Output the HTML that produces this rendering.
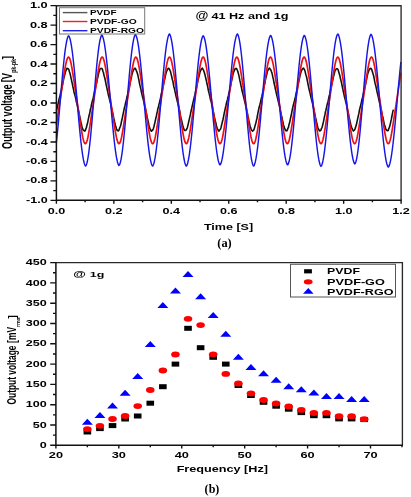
<!DOCTYPE html><html><head><meta charset="utf-8"><style>html,body{margin:0;padding:0;background:#fff;width:411px;height:497px;overflow:hidden}svg{display:block;will-change:transform}text{font-family:"Liberation Sans",sans-serif}</style></head><body><svg width="411" height="497" viewBox="0 0 411 497" >
<rect width="411" height="497" fill="#fff"/>
<polyline fill="none" stroke="#111" stroke-width="1.6" stroke-linejoin="round" points="56.40,110.94 56.90,108.93 57.40,106.55 57.90,104.61 58.40,102.53 58.90,99.97 59.40,97.87 59.90,96.54 60.40,93.92 60.90,91.72 61.40,90.17 61.90,87.39 62.40,85.36 62.90,82.65 63.40,80.42 63.90,77.67 64.40,75.92 64.90,74.11 65.40,72.03 65.90,70.76 66.40,69.59 66.90,68.32 67.40,68.64 67.90,68.62 68.40,68.92 68.90,69.63 69.40,71.72 69.90,73.02 70.40,75.16 70.90,77.43 71.40,79.56 71.90,82.10 72.40,84.01 72.90,86.75 73.40,88.76 73.90,91.47 74.40,93.61 74.90,95.04 75.40,97.16 75.90,99.28 76.40,102.01 76.90,103.61 77.40,105.91 77.90,107.81 78.40,110.26 78.90,112.47 79.40,114.82 79.90,117.41 80.40,119.77 80.90,122.34 81.40,124.28 81.90,126.44 82.40,128.04 82.90,129.52 83.40,130.21 83.90,130.34 84.40,131.12 84.90,130.94 85.40,130.19 85.90,128.79 86.40,127.48 86.90,125.27 87.40,123.83 87.90,121.41 88.40,118.85 88.90,116.28 89.40,114.60 89.90,112.36 90.40,109.24 90.90,107.64 91.40,105.12 91.90,102.77 92.40,100.83 92.90,99.21 93.40,97.24 93.90,94.40 94.40,92.77 94.90,90.04 95.40,88.36 95.90,85.67 96.40,83.78 96.90,81.49 97.40,78.72 97.90,76.93 98.40,74.23 98.90,72.17 99.40,71.07 99.90,69.33 100.40,68.62 100.90,68.38 101.40,68.55 101.90,68.56 102.40,69.29 102.90,71.25 103.40,72.31 103.90,74.74 104.40,76.75 104.90,78.52 105.40,80.92 105.90,83.36 106.40,85.85 106.90,88.16 107.40,90.41 107.90,92.69 108.40,95.12 108.90,96.83 109.40,98.82 109.90,101.13 110.40,102.77 110.90,104.93 111.40,107.71 111.90,109.54 112.40,111.87 112.90,113.75 113.40,116.50 113.90,119.02 114.40,120.83 114.90,123.55 115.40,125.57 115.90,126.82 116.40,128.79 116.90,129.76 117.40,130.66 117.90,130.66 118.40,130.84 118.90,130.30 119.40,128.69 119.90,127.39 120.40,126.28 120.90,124.61 121.40,121.84 121.90,119.75 122.40,117.52 122.90,114.88 123.40,112.55 123.90,110.17 124.40,107.96 124.90,105.97 125.40,103.58 125.90,101.56 126.40,99.87 126.90,97.14 127.40,95.55 127.90,93.57 128.40,91.00 128.90,88.65 129.40,86.85 129.90,83.97 130.40,81.53 130.90,79.40 131.40,77.36 131.90,74.69 132.40,72.95 132.90,71.30 133.40,70.40 133.90,69.07 134.40,68.87 134.90,68.11 135.40,68.54 135.90,69.53 136.40,70.84 136.90,71.90 137.40,73.46 137.90,75.37 138.40,77.92 138.90,79.93 139.40,82.85 139.90,85.27 140.40,87.04 140.90,89.44 141.40,92.15 141.90,94.17 142.40,96.43 142.90,98.09 143.40,99.94 143.90,102.15 144.40,104.69 144.90,106.37 145.40,108.66 145.90,111.01 146.40,113.36 146.90,115.73 147.40,118.57 147.90,120.22 148.40,122.32 148.90,125.24 149.40,127.03 149.90,128.69 150.40,129.41 150.90,130.72 151.40,131.13 151.90,130.50 152.40,130.54 152.90,129.78 153.40,128.40 153.90,126.70 154.40,124.65 154.90,122.62 155.40,120.28 155.90,117.80 156.40,115.89 156.90,113.24 157.40,111.36 157.90,108.39 158.40,106.94 158.90,104.60 159.40,102.72 159.90,100.63 160.40,98.59 160.90,96.23 161.40,93.61 161.90,92.10 162.40,89.34 162.90,87.15 163.40,85.11 163.90,82.60 164.40,80.13 164.90,78.29 165.40,75.81 165.90,73.56 166.40,71.73 166.90,70.82 167.40,69.37 167.90,68.94 168.40,68.27 168.90,68.28 169.40,69.16 169.90,70.39 170.40,71.15 170.90,73.38 171.40,75.43 171.90,77.46 172.40,79.75 172.90,81.37 173.40,84.32 173.90,86.90 174.40,88.50 174.90,90.96 175.40,93.15 175.90,95.51 176.40,97.50 176.90,99.60 177.40,101.92 177.90,103.31 178.40,105.48 178.90,107.74 179.40,110.01 179.90,112.28 180.40,115.47 180.90,117.75 181.40,119.42 181.90,122.07 182.40,124.03 182.90,125.95 183.40,127.65 183.90,129.25 184.40,130.17 184.90,130.53 185.40,130.51 185.90,130.35 186.40,129.45 186.90,128.73 187.40,127.41 187.90,125.35 188.40,123.07 188.90,120.97 189.40,118.83 189.90,116.67 190.40,114.44 190.90,111.72 191.40,109.79 191.90,107.39 192.40,105.05 192.90,102.89 193.40,100.93 193.90,99.07 194.40,96.75 194.90,94.90 195.40,92.54 195.90,90.13 196.40,88.10 196.90,85.90 197.40,82.96 197.90,80.89 198.40,78.56 198.90,76.73 199.40,74.72 199.90,72.37 200.40,71.28 200.90,69.97 201.40,68.66 201.90,68.42 202.40,68.12 202.90,69.18 203.40,69.89 203.90,71.33 204.40,72.81 204.90,74.55 205.40,76.69 205.90,78.77 206.40,80.70 206.90,83.52 207.40,85.37 207.90,87.84 208.40,90.70 208.90,92.25 209.40,94.45 209.90,96.54 210.40,99.31 210.90,100.73 211.40,102.66 211.90,105.50 212.40,107.03 212.90,109.92 213.40,112.08 213.90,114.59 214.40,117.08 214.90,119.11 215.40,121.62 215.90,123.11 216.40,125.77 216.90,127.29 217.40,128.92 217.90,129.47 218.40,130.74 218.90,131.19 219.40,130.25 219.90,129.90 220.40,129.13 220.90,128.02 221.40,125.82 221.90,123.82 222.40,121.75 222.90,119.80 223.40,117.57 223.90,114.85 224.40,112.46 224.90,110.16 225.40,107.85 225.90,105.72 226.40,103.30 226.90,101.59 227.40,99.96 227.90,97.41 228.40,95.63 228.90,92.97 229.40,91.25 229.90,89.04 230.40,86.64 230.90,84.12 231.40,81.71 231.90,79.49 232.40,77.45 232.90,74.65 233.40,72.68 233.90,71.61 234.40,70.43 234.90,69.11 235.40,68.49 235.90,68.61 236.40,68.43 236.90,69.22 237.40,70.28 237.90,72.09 238.40,73.62 238.90,75.55 239.40,78.16 239.90,80.71 240.40,82.49 240.90,85.25 241.40,87.34 241.90,90.04 242.40,92.04 242.90,93.92 243.40,95.99 243.90,97.88 244.40,100.34 244.90,102.31 245.40,104.22 245.90,106.54 246.40,108.73 246.90,111.42 247.40,113.20 247.90,116.35 248.40,118.27 248.90,120.71 249.40,122.82 249.90,125.22 250.40,127.04 250.90,128.36 251.40,129.50 251.90,130.54 252.40,131.08 252.90,130.65 253.40,130.50 253.90,129.85 254.40,128.16 254.90,126.37 255.40,124.52 255.90,122.87 256.40,120.59 256.90,118.51 257.40,116.03 257.90,113.10 258.40,110.71 258.90,108.49 259.40,106.21 259.90,104.53 260.40,102.58 260.90,100.55 261.40,97.92 261.90,96.40 262.40,93.79 262.90,91.72 263.40,89.75 263.90,86.86 264.40,84.50 264.90,82.78 265.40,79.92 265.90,77.68 266.40,75.70 266.90,73.79 267.40,71.44 267.90,70.29 268.40,69.30 268.90,68.66 269.40,68.14 269.90,68.64 270.40,69.57 270.90,70.05 271.40,71.55 271.90,72.84 272.40,74.93 272.90,77.42 273.40,79.20 273.90,82.26 274.40,84.67 274.90,86.31 275.40,89.39 275.90,91.14 276.40,93.69 276.90,95.80 277.40,97.47 277.90,99.86 278.40,101.90 278.90,104.11 279.40,105.76 279.90,108.40 280.40,110.85 280.90,112.92 281.40,115.17 281.90,117.18 282.40,119.88 282.90,122.02 283.40,124.47 283.90,126.35 284.40,127.90 284.90,128.88 285.40,130.25 285.90,130.79 286.40,130.50 286.90,130.83 287.40,129.89 287.90,128.29 288.40,127.54 288.90,125.06 289.40,123.21 289.90,121.37 290.40,118.94 290.90,116.53 291.40,114.22 291.90,111.70 292.40,109.26 292.90,106.90 293.40,104.64 293.90,103.11 294.40,101.08 294.90,98.84 295.40,96.96 295.90,94.52 296.40,92.28 296.90,90.16 297.40,88.31 297.90,85.22 298.40,83.25 298.90,80.64 299.40,78.78 299.90,76.18 300.40,74.10 300.90,72.33 301.40,70.91 301.90,69.91 302.40,68.71 302.90,68.75 303.40,68.12 303.90,68.72 304.40,69.43 304.90,70.69 305.40,72.87 305.90,74.69 306.40,76.28 306.90,78.53 307.40,81.07 307.90,83.75 308.40,86.20 308.90,88.48 309.40,90.62 309.90,92.43 310.40,94.81 310.90,96.71 311.40,99.07 311.90,101.16 312.40,102.90 312.90,105.06 313.40,107.71 313.90,109.28 314.40,112.29 314.90,114.73 315.40,117.17 315.90,119.03 316.40,121.49 316.90,123.69 317.40,125.73 317.90,127.78 318.40,128.95 318.90,129.68 319.40,130.86 319.90,130.78 320.40,130.72 320.90,130.23 321.40,128.58 321.90,127.90 322.40,126.12 322.90,124.02 323.40,121.91 323.90,119.57 324.40,116.97 324.90,114.88 325.40,112.07 325.90,110.16 326.40,108.03 326.90,105.66 327.40,103.65 327.90,101.92 328.40,99.81 328.90,97.07 329.40,95.58 329.90,93.30 330.40,90.58 330.90,88.59 331.40,86.15 331.90,83.63 332.40,81.66 332.90,79.66 333.40,76.85 333.90,75.22 334.40,73.15 334.90,71.00 335.40,70.33 335.90,69.15 336.40,68.91 336.90,68.61 337.40,68.95 337.90,69.33 338.40,70.87 338.90,72.47 339.40,74.18 339.90,75.82 340.40,78.31 340.90,80.38 341.40,82.42 341.90,84.74 342.40,87.13 342.90,89.55 343.40,91.75 343.90,94.21 344.40,96.50 344.90,98.42 345.40,100.37 345.90,102.64 346.40,104.42 346.90,106.72 347.40,109.21 347.90,111.18 348.40,113.33 348.90,116.36 349.40,118.58 349.90,120.59 350.40,122.82 350.90,125.02 351.40,126.91 351.90,128.11 352.40,129.11 352.90,130.10 353.40,131.02 353.90,130.41 354.40,130.23 354.90,129.11 355.40,127.87 355.90,126.25 356.40,124.59 356.90,122.29 357.40,119.92 357.90,117.65 358.40,115.32 358.90,113.23 359.40,110.50 359.90,108.19 360.40,106.36 360.90,104.18 361.40,102.35 361.90,99.71 362.40,97.97 362.90,95.90 363.40,93.45 363.90,92.12 364.40,89.20 364.90,86.77 365.40,84.75 365.90,82.09 366.40,80.13 366.90,77.58 367.40,75.20 367.90,73.15 368.40,72.03 368.90,70.19 369.40,69.58 369.90,68.62 370.40,68.79 370.90,68.40 371.40,68.96 371.90,69.99 372.40,71.85 372.90,73.38 373.40,75.07 373.90,76.99 374.40,79.81 374.90,82.43 375.40,84.48 375.90,86.32 376.40,88.66 376.90,90.98 377.40,93.23 377.90,95.24 378.40,97.33 378.90,99.92 379.40,102.20 379.90,103.65 380.40,106.48 380.90,108.24 381.40,110.80 381.90,113.24 382.40,115.63 382.90,117.20 383.40,119.80 383.90,122.34 384.40,124.76 384.90,125.89 385.40,127.72 385.90,129.53 386.40,129.80 386.90,130.58 387.40,130.64 387.90,130.62 388.40,130.10 388.90,128.28 389.40,127.30 389.90,125.51 390.40,123.58 390.90,121.12 391.40,119.14 391.90,116.26 392.40,113.92 392.90,111.40 393.40,109.59"/>
<polyline fill="none" stroke="#f01010" stroke-width="1.7" stroke-linejoin="round" points="56.40,124.77 56.90,121.48 57.40,118.16 57.90,114.82 58.40,111.49 58.90,108.18 59.40,104.89 59.90,101.61 60.40,98.34 60.90,95.06 61.40,91.76 61.90,88.45 62.40,85.11 62.90,81.78 63.40,78.46 63.90,75.19 64.40,72.03 64.90,69.02 65.40,66.21 65.90,63.69 66.40,61.50 66.90,59.70 67.40,58.35 67.90,57.47 68.40,57.11 68.90,57.27 69.40,57.94 69.90,59.10 70.40,60.73 70.90,62.77 71.40,65.17 71.90,67.87 72.40,70.80 72.90,73.91 73.40,77.14 73.90,80.44 74.40,83.78 74.90,87.12 75.40,90.44 75.90,93.74 76.40,97.03 76.90,100.30 77.40,103.58 77.90,106.86 78.40,110.16 78.90,113.48 79.40,116.82 79.90,120.16 80.40,123.46 80.90,126.70 81.40,129.82 81.90,132.76 82.40,135.48 82.90,137.90 83.40,139.96 83.90,141.61 84.40,142.81 84.90,143.51 85.40,143.69 85.90,143.36 86.40,142.52 86.90,141.19 87.40,139.42 87.90,137.25 88.40,134.75 88.90,131.96 89.40,128.96 89.90,125.80 90.40,122.54 90.90,119.22 91.40,115.89 91.90,112.55 92.40,109.23 92.90,105.94 93.40,102.66 93.90,99.39 94.40,96.11 94.90,92.82 95.40,89.51 95.90,86.18 96.40,82.84 96.90,79.52 97.40,76.23 97.90,73.03 98.40,69.96 98.90,67.08 99.40,64.46 99.90,62.16 100.40,60.23 100.90,58.73 101.40,57.70 101.90,57.17 102.40,57.16 102.90,57.67 103.40,58.68 103.90,60.16 104.40,62.07 104.90,64.36 105.40,66.97 105.90,69.84 106.40,72.90 106.90,76.10 107.40,79.38 107.90,82.71 108.40,86.05 108.90,89.38 109.40,92.69 109.90,95.98 110.40,99.25 110.90,102.53 111.40,105.81 111.90,109.10 112.40,112.42 112.90,115.75 113.40,119.09 113.90,122.41 114.40,125.67 114.90,128.83 115.40,131.84 115.90,134.64 116.40,137.16 116.90,139.34 117.40,141.13 117.90,142.48 118.40,143.34 118.90,143.69 119.40,143.53 119.90,142.84 120.40,141.67 120.90,140.04 121.40,137.99 121.90,135.58 122.40,132.88 122.90,129.94 123.40,126.82 123.90,123.59 124.40,120.29 124.90,116.95 125.40,113.62 125.90,110.29 126.40,106.99 126.90,103.71 127.40,100.43 127.90,97.16 128.40,93.88 128.90,90.57 129.40,87.25 129.90,83.91 130.40,80.58 130.90,77.27 131.40,74.04 131.90,70.92 132.40,67.98 132.90,65.27 133.40,62.86 133.90,60.80 134.40,59.16 134.90,57.97 135.40,57.28 135.90,57.11 136.40,57.45 136.90,58.30 137.40,59.64 137.90,61.42 138.40,63.59 138.90,66.11 139.40,68.90 139.90,71.90 140.40,75.06 140.90,78.33 141.40,81.64 141.90,84.98 142.40,88.31 142.90,91.63 143.40,94.93 143.90,98.21 144.40,101.48 144.90,104.76 145.40,108.05 145.90,111.36 146.40,114.68 146.90,118.02 147.40,121.35 147.90,124.64 148.40,127.84 148.90,130.90 149.40,133.77 149.90,136.39 150.40,138.68 150.90,140.61 151.40,142.10 151.90,143.12 152.40,143.63 152.90,143.63 153.40,143.12 153.90,142.10 154.40,140.61 154.90,138.68 155.40,136.39 155.90,133.77 156.40,130.90 156.90,127.84 157.40,124.64 157.90,121.35 158.40,118.02 158.90,114.68 159.40,111.36 159.90,108.05 160.40,104.76 160.90,101.48 161.40,98.21 161.90,94.93 162.40,91.63 162.90,88.31 163.40,84.98 163.90,81.64 164.40,78.33 164.90,75.06 165.40,71.90 165.90,68.90 166.40,66.11 166.90,63.59 167.40,61.42 167.90,59.64 168.40,58.30 168.90,57.45 169.40,57.11 169.90,57.28 170.40,57.97 170.90,59.16 171.40,60.80 171.90,62.86 172.40,65.27 172.90,67.98 173.40,70.92 173.90,74.04 174.40,77.27 174.90,80.58 175.40,83.91 175.90,87.25 176.40,90.57 176.90,93.88 177.40,97.16 177.90,100.43 178.40,103.71 178.90,106.99 179.40,110.29 179.90,113.62 180.40,116.95 180.90,120.29 181.40,123.59 181.90,126.82 182.40,129.94 182.90,132.88 183.40,135.58 183.90,137.99 184.40,140.04 184.90,141.67 185.40,142.84 185.90,143.53 186.40,143.69 186.90,143.34 187.40,142.48 187.90,141.13 188.40,139.34 188.90,137.16 189.40,134.64 189.90,131.84 190.40,128.83 190.90,125.67 191.40,122.41 191.90,119.09 192.40,115.75 192.90,112.42 193.40,109.10 193.90,105.81 194.40,102.53 194.90,99.25 195.40,95.98 195.90,92.69 196.40,89.38 196.90,86.05 197.40,82.71 197.90,79.38 198.40,76.10 198.90,72.90 199.40,69.84 199.90,66.97 200.40,64.36 200.90,62.07 201.40,60.16 201.90,58.68 202.40,57.67 202.90,57.16 203.40,57.17 203.90,57.70 204.40,58.73 204.90,60.23 205.40,62.16 205.90,64.46 206.40,67.08 206.90,69.96 207.40,73.03 207.90,76.23 208.40,79.52 208.90,82.84 209.40,86.18 209.90,89.51 210.40,92.82 210.90,96.11 211.40,99.39 211.90,102.66 212.40,105.94 212.90,109.23 213.40,112.55 213.90,115.89 214.40,119.22 214.90,122.54 215.40,125.80 215.90,128.96 216.40,131.96 216.90,134.75 217.40,137.25 217.90,139.42 218.40,141.19 218.90,142.52 219.40,143.36 219.90,143.69 220.40,143.51 220.90,142.81 221.40,141.61 221.90,139.96 222.40,137.90 222.90,135.48 223.40,132.76 223.90,129.82 224.40,126.70 224.90,123.46 225.40,120.16 225.90,116.82 226.40,113.48 226.90,110.16 227.40,106.86 227.90,103.58 228.40,100.30 228.90,97.03 229.40,93.74 229.90,90.44 230.40,87.12 230.90,83.78 231.40,80.44 231.90,77.14 232.40,73.91 232.90,70.80 233.40,67.87 233.90,65.17 234.40,62.77 234.90,60.73 235.40,59.10 235.90,57.94 236.40,57.27 236.90,57.11 237.40,57.47 237.90,58.35 238.40,59.70 238.90,61.50 239.40,63.69 239.90,66.21 240.40,69.02 240.90,72.03 241.40,75.19 241.90,78.46 242.40,81.78 242.90,85.11 243.40,88.45 243.90,91.76 244.40,95.06 244.90,98.34 245.40,101.61 245.90,104.89 246.40,108.18 246.90,111.49 247.40,114.82 247.90,118.16 248.40,121.48 248.90,124.77 249.40,127.96 249.90,131.02 250.40,133.88 250.90,136.48 251.40,138.77 251.90,140.67 252.40,142.15 252.90,143.15 253.40,143.64 253.90,143.62 254.40,143.09 254.90,142.05 255.40,140.54 255.90,138.60 256.40,136.29 256.90,133.66 257.40,130.78 257.90,127.71 258.40,124.51 258.90,121.22 259.40,117.89 259.90,114.55 260.40,111.22 260.90,107.91 261.40,104.62 261.90,101.35 262.40,98.08 262.90,94.80 263.40,91.50 263.90,88.18 264.40,84.85 264.90,81.51 265.40,78.19 265.90,74.94 266.40,71.78 266.90,68.78 267.40,66.00 267.90,63.50 268.40,61.34 268.90,59.57 269.40,58.26 269.90,57.43 270.40,57.10 270.90,57.30 271.40,58.01 271.90,59.22 272.40,60.88 272.90,62.95 273.40,65.37 273.90,68.09 274.40,71.05 274.90,74.17 275.40,77.41 275.90,80.71 276.40,84.05 276.90,87.38 277.40,90.70 277.90,94.01 278.40,97.29 278.90,100.56 279.40,103.84 279.90,107.12 280.40,110.43 280.90,113.75 281.40,117.09 281.90,120.42 282.40,123.72 282.90,126.95 283.40,130.06 283.90,132.99 284.40,135.68 284.90,138.08 285.40,140.11 285.90,141.73 286.40,142.88 286.90,143.54 287.40,143.69 287.90,143.31 288.40,142.43 288.90,141.07 289.40,139.26 289.90,137.06 290.40,134.53 290.90,131.73 291.40,128.71 291.90,125.54 292.40,122.28 292.90,118.96 293.40,115.62 293.90,112.29 294.40,108.97 294.90,105.68 295.40,102.40 295.90,99.12 296.40,95.85 296.90,92.56 297.40,89.25 297.90,85.92 298.40,82.58 298.90,79.25 299.40,75.97 299.90,72.78 300.40,69.72 300.90,66.86 301.40,64.27 301.90,61.99 302.40,60.09 302.90,58.63 303.40,57.64 303.90,57.15 304.40,57.18 304.90,57.73 305.40,58.78 305.90,60.30 306.40,62.24 306.90,64.56 307.40,67.19 307.90,70.08 308.40,73.15 308.90,76.36 309.40,79.65 309.90,82.98 310.40,86.32 310.90,89.64 311.40,92.95 311.90,96.24 312.40,99.52 312.90,102.79 313.40,106.07 313.90,109.37 314.40,112.69 314.90,116.02 315.40,119.36 315.90,122.67 316.40,125.93 316.90,129.08 317.40,132.07 317.90,134.85 318.40,137.35 318.90,139.50 319.40,141.26 319.90,142.56 320.40,143.39 320.90,143.70 321.40,143.49 321.90,142.77 322.40,141.56 322.90,139.89 323.40,137.81 323.90,135.37 324.40,132.65 324.90,129.69 325.40,126.57 325.90,123.33 326.40,120.02 326.90,116.69 327.40,113.35 327.90,110.03 328.40,106.73 328.90,103.44 329.40,100.17 329.90,96.90 330.40,93.61 330.90,90.31 331.40,86.98 331.90,83.64 332.40,80.31 332.90,77.01 333.40,73.79 333.90,70.68 334.40,67.75 334.90,65.07 335.40,62.68 335.90,60.65 336.40,59.05 336.90,57.90 337.40,57.25 337.90,57.11 338.40,57.50 338.90,58.39 339.40,59.76 339.90,61.58 340.40,63.78 340.90,66.32 341.40,69.13 341.90,72.15 342.40,75.32 342.90,78.59 343.40,81.91 343.90,85.25 344.40,88.58 344.90,91.90 345.40,95.19 345.90,98.47 346.40,101.74 346.90,105.02 347.40,108.31 347.90,111.62 348.40,114.95 348.90,118.29 349.40,121.62 349.90,124.89 350.40,128.09 350.90,131.14 351.40,133.99 351.90,136.58 352.40,138.85 352.90,140.74 353.40,142.20 353.90,143.18 354.40,143.65 354.90,143.61 355.40,143.05 355.90,142.00 356.40,140.47 356.90,138.51 357.40,136.19 357.90,133.55 358.40,130.66 358.90,127.58 359.40,124.37 359.90,121.09 360.40,117.76 360.90,114.42 361.40,111.09 361.90,107.78 362.40,104.49 362.90,101.22 363.40,97.95 363.90,94.66 364.40,91.37 364.90,88.05 365.40,84.71 365.90,81.38 366.40,78.06 366.90,74.81 367.40,71.66 367.90,68.67 368.40,65.90 368.90,63.41 369.40,61.26 369.90,59.51 370.40,58.21 370.90,57.40 371.40,57.10 371.90,57.32 372.40,58.05 372.90,59.27 373.40,60.95 373.90,63.04 374.40,65.48 374.90,68.21 375.40,71.17 375.90,74.30 376.40,77.54 376.90,80.84 377.40,84.18 377.90,87.52 378.40,90.84 378.90,94.14 379.40,97.42 379.90,100.69 380.40,103.97 380.90,107.25 381.40,110.56 381.90,113.88 382.40,117.22 382.90,120.55 383.40,123.85 383.90,127.08 384.40,130.18 384.90,133.10 385.40,135.79 385.90,138.17 386.40,140.18 386.90,141.78 387.40,142.92 387.90,143.56 388.40,143.68 388.90,143.29 389.40,142.39 389.90,141.00 390.40,139.18 390.90,136.97 391.40,134.42 391.90,131.61 392.40,128.59 392.90,125.41 393.40,122.14 393.90,118.82 394.40,115.49 394.90,112.15 395.40,108.84 395.90,105.54 396.40,102.27 396.90,98.99 397.40,95.72 397.90,92.42 398.40,89.11 398.90,85.78 399.40,82.44 399.90,79.12 400.40,75.84 400.90,72.65"/>
<polyline fill="none" stroke="#1515e8" stroke-width="1.45" stroke-linejoin="round" points="56.40,142.42 56.90,137.75 57.40,132.78 57.90,127.55 58.40,122.10 58.90,116.48 59.40,110.73 59.90,104.90 60.40,99.04 60.90,93.19 61.40,87.41 61.90,81.73 62.40,76.21 62.90,70.88 63.40,65.80 63.90,61.01 64.40,56.53 64.90,52.41 65.40,48.68 65.90,45.37 66.40,42.51 66.90,40.10 67.40,38.18 67.90,36.75 68.40,35.83 68.90,35.96 69.40,36.96 69.90,38.45 70.40,40.41 70.90,42.83 71.40,45.70 71.90,49.00 72.40,52.70 72.90,56.77 73.40,61.19 73.90,65.91 74.40,70.91 74.90,76.15 75.40,81.58 75.90,87.15 76.40,92.84 76.90,98.59 77.40,104.36 77.90,110.10 78.40,115.77 78.90,121.32 79.40,126.72 79.90,131.91 80.40,136.85 80.90,141.52 81.40,145.87 81.90,149.87 82.40,153.49 82.90,156.70 83.40,159.49 83.90,161.82 84.40,163.69 84.90,165.07 85.40,165.98 85.90,165.81 86.40,164.73 86.90,163.11 87.40,160.97 87.90,158.32 88.40,155.18 88.90,151.57 89.40,147.53 89.90,143.09 90.40,138.28 90.90,133.15 91.40,127.74 91.90,122.09 92.40,116.26 92.90,110.30 93.40,104.25 93.90,98.17 94.40,92.11 94.90,86.12 95.40,80.26 95.90,74.57 96.40,69.11 96.90,63.92 97.40,59.05 97.90,54.53 98.40,50.40 98.90,46.71 99.40,43.47 99.90,40.72 100.40,38.48 100.90,36.75 101.40,35.56 101.90,35.10 102.40,35.89 102.90,37.16 103.40,38.89 103.90,41.09 104.40,43.73 104.90,46.79 105.40,50.26 105.90,54.11 106.40,58.31 106.90,62.83 107.40,67.63 107.90,72.68 108.40,77.95 108.90,83.39 109.40,88.95 109.90,94.60 110.40,100.30 110.90,106.00 111.40,111.65 111.90,117.21 112.40,122.65 112.90,127.92 113.40,132.97 113.90,137.77 114.40,142.29 114.90,146.49 115.40,150.34 115.90,153.81 116.40,156.87 116.90,159.51 117.40,161.71 117.90,163.44 118.40,164.71 118.90,165.50 119.40,165.05 119.90,163.88 120.40,162.20 120.90,160.00 121.40,157.31 121.90,154.14 122.40,150.53 122.90,146.50 123.40,142.07 123.90,137.30 124.40,132.21 124.90,126.86 125.40,121.27 125.90,115.51 126.40,109.62 126.90,103.65 127.40,97.65 127.90,91.67 128.40,85.76 128.90,79.96 129.40,74.34 129.90,68.94 130.40,63.79 130.90,58.95 131.40,54.46 131.90,50.34 132.40,46.64 132.90,43.39 133.40,40.60 133.90,38.30 134.40,36.51 134.90,35.24 135.40,34.50 135.90,35.20 136.40,36.38 136.90,38.04 137.40,40.16 137.90,42.73 138.40,45.74 138.90,49.16 139.40,52.97 139.90,57.13 140.40,61.63 140.90,66.42 141.40,71.46 141.90,76.73 142.40,82.19 142.90,87.77 143.40,93.46 143.90,99.20 144.40,104.95 144.90,110.66 145.40,116.29 145.90,121.80 146.40,127.15 146.90,132.29 147.40,137.19 147.90,141.81 148.40,146.11 148.90,150.06 149.40,153.64 149.90,156.81 150.40,159.56 150.90,161.87 151.40,163.71 151.90,165.08 152.40,165.98 152.90,165.82 153.40,164.79 153.90,163.26 154.40,161.23 154.90,158.72 155.40,155.76 155.90,152.34 156.40,148.52 156.90,144.31 157.40,139.75 157.90,134.87 158.40,129.71 158.90,124.31 159.40,118.72 159.90,112.98 160.40,107.13 160.90,101.23 161.40,95.32 161.90,89.45 162.40,83.66 162.90,78.00 163.40,72.52 163.90,67.27 164.40,62.27 164.90,57.58 165.40,53.22 165.90,49.24 166.40,45.66 166.90,42.51 167.40,39.81 167.90,37.59 168.40,35.86 168.90,34.63 169.40,33.90 169.90,34.62 170.40,35.84 170.90,37.56 171.40,39.76 171.90,42.42 172.40,45.54 172.90,49.08 173.40,53.02 173.90,57.33 174.40,61.98 174.90,66.93 175.40,72.14 175.90,77.58 176.40,83.19 176.90,88.93 177.40,94.76 177.90,100.64 178.40,106.51 178.90,112.33 179.40,118.05 179.90,123.63 180.40,129.02 180.90,134.18 181.40,139.07 181.90,143.66 182.40,147.90 182.90,151.76 183.40,155.22 183.90,158.25 184.40,160.82 184.90,162.92 185.40,164.54 185.90,165.66 186.40,166.10 186.90,165.29 187.40,163.98 187.90,162.19 188.40,159.93 188.90,157.21 189.40,154.04 189.90,150.47 190.40,146.50 190.90,142.17 191.40,137.52 191.90,132.58 192.40,127.39 192.90,121.99 193.40,116.42 193.90,110.73 194.40,104.96 194.90,99.16 195.40,93.37 195.90,87.64 196.40,82.02 196.90,76.55 197.40,71.27 197.90,66.22 198.40,61.45 198.90,56.99 199.40,52.87 199.90,49.14 200.40,45.81 200.90,42.91 201.40,40.46 201.90,38.48 202.40,36.98 202.90,35.97 203.40,35.82 203.90,36.73 204.40,38.14 204.90,40.02 205.40,42.38 205.90,45.20 206.40,48.45 206.90,52.11 207.40,56.16 207.90,60.55 208.40,65.27 208.90,70.26 209.40,75.50 209.90,80.93 210.40,86.52 210.90,92.22 211.40,97.99 211.90,103.77 212.40,109.53 212.90,115.21 213.40,120.77 213.90,126.17 214.40,131.36 214.90,136.30 215.40,140.95 215.90,145.28 216.40,149.25 216.90,152.83 217.40,156.00 217.90,158.73 218.40,160.99 218.90,162.78 219.40,164.09 219.90,164.90 220.40,164.49 220.90,163.43 221.40,161.90 221.90,159.92 222.40,157.50 222.90,154.65 223.40,151.39 223.90,147.75 224.40,143.76 224.90,139.43 225.40,134.81 225.90,129.92 226.40,124.80 226.90,119.50 227.40,114.04 227.90,108.48 228.40,102.84 228.90,97.19 229.40,91.55 229.90,85.96 230.40,80.48 230.90,75.15 231.40,69.99 231.90,65.05 232.40,60.37 232.90,55.98 233.40,51.92 233.90,48.20 234.40,44.87 234.90,41.94 235.40,39.43 235.90,37.36 236.40,35.74 236.90,34.59 237.40,33.90 237.90,34.66 238.40,35.97 238.90,37.82 239.40,40.18 239.90,43.06 240.40,46.42 240.90,50.23 241.40,54.47 241.90,59.10 242.40,64.09 242.90,69.38 243.40,74.94 243.90,80.71 244.40,86.65 244.90,92.70 245.40,98.82 245.90,104.95 246.40,111.04 246.90,117.03 247.40,122.88 247.90,128.53 248.40,133.93 248.90,139.04 249.40,143.82 249.90,148.22 250.40,152.21 250.90,155.76 251.40,158.83 251.90,161.40 252.40,163.45 252.90,164.98 253.40,165.96 253.90,165.83 254.40,164.83 254.90,163.34 255.40,161.38 255.90,158.95 256.40,156.07 256.90,152.77 257.40,149.06 257.90,144.98 258.40,140.55 258.90,135.82 259.40,130.81 259.90,125.56 260.40,120.12 260.90,114.53 261.40,108.83 261.90,103.06 262.40,97.28 262.90,91.53 263.40,85.84 263.90,80.28 264.40,74.87 264.90,69.67 265.40,64.71 265.90,60.04 266.40,55.68 266.90,51.67 267.40,48.04 267.90,44.82 268.40,42.03 268.90,39.69 269.40,37.82 269.90,36.43 270.40,35.52 270.90,35.66 271.40,36.65 271.90,38.13 272.40,40.08 272.90,42.48 273.40,45.33 273.90,48.61 274.40,52.28 274.90,56.33 275.40,60.71 275.90,65.41 276.40,70.37 276.90,75.57 277.40,80.96 277.90,86.50 278.40,92.15 278.90,97.86 279.40,103.59 279.90,109.29 280.40,114.92 280.90,120.43 281.40,125.79 281.90,130.94 282.40,135.86 282.90,140.49 283.40,144.81 283.90,148.78 284.40,152.38 284.90,155.57 285.40,158.33 285.90,160.65 286.40,162.50 286.90,163.88 287.40,164.78 287.90,164.63 288.40,163.61 288.90,162.09 289.40,160.08 289.90,157.60 290.40,154.66 290.90,151.28 291.40,147.49 291.90,143.32 292.40,138.80 292.90,133.97 293.40,128.86 293.90,123.53 294.40,118.00 294.90,112.33 295.40,106.56 295.90,100.73 296.40,94.91 296.90,89.12 297.40,83.42 297.90,77.86 298.40,72.49 298.90,67.33 299.40,62.44 299.90,57.86 300.40,53.62 300.90,49.75 301.40,46.29 301.90,43.25 302.40,40.68 302.90,38.57 303.40,36.95 303.90,35.83 304.40,35.40 304.90,36.23 305.40,37.57 305.90,39.40 306.40,41.72 306.90,44.51 307.40,47.75 307.90,51.42 308.40,55.49 308.90,59.92 309.40,64.68 309.90,69.73 310.40,75.04 310.90,80.55 311.40,86.23 311.90,92.03 312.40,97.90 312.90,103.80 313.40,109.67 313.90,115.47 314.40,121.15 314.90,126.66 315.40,131.97 315.90,137.02 316.40,141.78 316.90,146.21 317.40,150.28 317.90,153.95 318.40,157.19 318.90,159.98 319.40,162.30 319.90,164.13 320.40,165.47 320.90,166.30 321.40,165.86 321.90,164.72 322.40,163.09 322.90,160.96 323.40,158.36 323.90,155.29 324.40,151.79 324.90,147.88 325.40,143.59 325.90,138.95 326.40,134.01 326.90,128.79 327.40,123.34 327.90,117.71 328.40,111.94 328.90,106.07 329.40,100.15 329.90,94.23 330.40,88.36 330.90,82.59 331.40,76.96 331.90,71.51 332.40,66.29 332.90,61.35 333.40,56.71 333.90,52.42 334.40,48.51 334.90,45.01 335.40,41.94 335.90,39.34 336.40,37.21 336.90,35.58 337.40,34.44 337.90,34.00 338.40,34.80 338.90,36.09 339.40,37.85 339.90,40.09 340.40,42.77 340.90,45.89 341.40,49.41 341.90,53.33 342.40,57.59 342.90,62.18 343.40,67.06 343.90,72.18 344.40,77.52 344.90,83.02 345.40,88.65 345.90,94.36 346.40,100.10 346.90,105.84 347.40,111.52 347.90,117.10 348.40,122.54 348.90,127.80 349.40,132.83 349.90,137.59 350.40,142.06 350.90,146.18 351.40,149.94 351.90,153.31 352.40,156.26 352.90,158.76 353.40,160.81 353.90,162.38 354.40,163.48 354.90,163.89 355.40,163.04 355.90,161.65 356.40,159.73 356.90,157.31 357.40,154.39 357.90,151.01 358.40,147.18 358.90,142.94 359.40,138.32 359.90,133.37 360.40,128.12 360.90,122.62 361.40,116.92 361.90,111.07 362.40,105.11 362.90,99.10 363.40,93.09 363.90,87.13 364.40,81.28 364.90,75.58 365.40,70.08 365.90,64.83 366.40,59.88 366.90,55.26 367.40,51.02 367.90,47.19 368.40,43.81 368.90,40.89 369.40,38.47 369.90,36.55 370.40,35.16 370.90,34.31 371.40,34.72 371.90,35.81 372.40,37.37 372.90,39.40 373.40,41.88 373.90,44.80 374.40,48.14 374.90,51.87 375.40,55.97 375.90,60.40 376.40,65.13 376.90,70.14 377.40,75.37 377.90,80.80 378.40,86.38 378.90,92.06 379.40,97.81 379.90,103.59 380.40,109.34 380.90,115.02 381.40,120.60 381.90,126.03 382.40,131.26 382.90,136.27 383.40,141.00 383.90,145.43 384.40,149.53 384.90,153.26 385.40,156.60 385.90,159.52 386.40,162.00 386.90,164.03 387.40,165.59 387.90,166.68 388.40,167.10 388.90,166.33 389.40,165.11 389.90,163.44 390.40,161.32 390.90,158.79 391.40,155.84 391.90,152.50 392.40,148.79 392.90,144.74 393.40,140.38 393.90,135.74 394.40,130.84 394.90,125.73 395.40,120.45 395.90,115.02 396.40,109.49 396.90,103.90 397.40,98.30 397.90,92.71 398.40,87.18 398.90,81.75 399.40,76.47 399.90,71.36 400.40,66.46 400.90,61.82"/>
<path d="M56.4,5.7 H401.1 V200.3" fill="none" stroke="#2a2a2a" stroke-width="1.35"/>
<path d="M56.4,5.2 V200.3 H401.70000000000005" fill="none" stroke="#111" stroke-width="1.5"/>
<path d="M50.5,200.35H56.4 M53.3,190.62H56.4 M50.5,180.88H56.4 M53.3,171.14H56.4 M50.5,161.41H56.4 M53.3,151.68H56.4 M50.5,141.94H56.4 M53.3,132.20H56.4 M50.5,122.47H56.4 M53.3,112.73H56.4 M50.5,103.00H56.4 M53.3,93.27H56.4 M50.5,83.53H56.4 M53.3,73.80H56.4 M50.5,64.06H56.4 M53.3,54.33H56.4 M50.5,44.59H56.4 M53.3,34.86H56.4 M50.5,25.12H56.4 M53.3,15.39H56.4 M50.5,5.65H56.4 M56.40,200.3V203.8 M85.12,200.3V202.2 M113.85,200.3V203.8 M142.58,200.3V202.2 M171.30,200.3V203.8 M200.03,200.3V202.2 M228.75,200.3V203.8 M257.48,200.3V202.2 M286.20,200.3V203.8 M314.93,200.3V202.2 M343.65,200.3V203.8 M372.38,200.3V202.2 M401.10,200.3V203.8" stroke="#111" stroke-width="1.4" fill="none"/>
<text transform="translate(47.70,202.95) scale(1.4923,1)" x="0" y="0" font-size="8.4" font-weight="bold" text-anchor="end">-1.0</text>
<text transform="translate(47.70,183.48) scale(1.4923,1)" x="0" y="0" font-size="8.4" font-weight="bold" text-anchor="end">-0.8</text>
<text transform="translate(47.70,164.01) scale(1.4923,1)" x="0" y="0" font-size="8.4" font-weight="bold" text-anchor="end">-0.6</text>
<text transform="translate(47.70,144.54) scale(1.4923,1)" x="0" y="0" font-size="8.4" font-weight="bold" text-anchor="end">-0.4</text>
<text transform="translate(47.70,125.07) scale(1.4923,1)" x="0" y="0" font-size="8.4" font-weight="bold" text-anchor="end">-0.2</text>
<text transform="translate(47.70,105.60) scale(1.5243,1)" x="0" y="0" font-size="8.4" font-weight="bold" text-anchor="end">0.0</text>
<text transform="translate(47.70,86.13) scale(1.5243,1)" x="0" y="0" font-size="8.4" font-weight="bold" text-anchor="end">0.2</text>
<text transform="translate(47.70,66.66) scale(1.5243,1)" x="0" y="0" font-size="8.4" font-weight="bold" text-anchor="end">0.4</text>
<text transform="translate(47.70,47.19) scale(1.5243,1)" x="0" y="0" font-size="8.4" font-weight="bold" text-anchor="end">0.6</text>
<text transform="translate(47.70,27.72) scale(1.5243,1)" x="0" y="0" font-size="8.4" font-weight="bold" text-anchor="end">0.8</text>
<text transform="translate(47.70,8.25) scale(1.5243,1)" x="0" y="0" font-size="8.4" font-weight="bold" text-anchor="end">1.0</text>
<text transform="translate(56.40,213.50) scale(1.2846,1)" x="0" y="0" font-size="9.8" font-weight="bold" text-anchor="middle">0.0</text>
<text transform="translate(113.85,213.50) scale(1.2846,1)" x="0" y="0" font-size="9.8" font-weight="bold" text-anchor="middle">0.2</text>
<text transform="translate(171.30,213.50) scale(1.2846,1)" x="0" y="0" font-size="9.8" font-weight="bold" text-anchor="middle">0.4</text>
<text transform="translate(228.75,213.50) scale(1.2846,1)" x="0" y="0" font-size="9.8" font-weight="bold" text-anchor="middle">0.6</text>
<text transform="translate(286.20,213.50) scale(1.2846,1)" x="0" y="0" font-size="9.8" font-weight="bold" text-anchor="middle">0.8</text>
<text transform="translate(343.65,213.50) scale(1.2846,1)" x="0" y="0" font-size="9.8" font-weight="bold" text-anchor="middle">1.0</text>
<text transform="translate(401.10,213.50) scale(1.2846,1)" x="0" y="0" font-size="9.8" font-weight="bold" text-anchor="middle">1.2</text>
<text transform="translate(228.50,230.40) scale(1.2804,1)" x="0" y="0" font-size="9.8" font-weight="bold" text-anchor="middle">Time [S]</text>
<text transform="translate(224.50,247.00) scale(1.0363,1)" x="0" y="0" font-size="12.0" font-weight="bold" text-anchor="middle" style="font-family:&quot;Liberation Serif&quot;,serif">(a)</text>
<text transform="translate(195.60,19.40) scale(1.3229,1)" x="0" y="0" font-size="10.0" font-weight="bold" text-anchor="start">@</text>
<text transform="translate(211.50,18.70) scale(1.4666,1)" x="0" y="0" font-size="8.6" font-weight="bold" text-anchor="start">41 Hz and 1g</text>
<g transform="translate(11.8,148.9) rotate(-90)">
<text transform="translate(0.00,0.00) scale(0.6530,1)" x="0" y="0" font-size="14" font-weight="bold" text-anchor="start">Output voltage</text>
<text transform="translate(66.60,0.00) scale(0.6786,1)" x="0" y="0" font-size="14" font-weight="bold" text-anchor="start">[V</text>
<text transform="translate(76.20,4.20) scale(0.6634,1)" x="0" y="0" font-size="7.8" font-weight="bold" text-anchor="start">pk-pk</text>
<text transform="translate(89.60,-1.00) scale(0.7392,1)" x="0" y="0" font-size="13" font-weight="bold" text-anchor="start">]</text>
</g>
<rect x="59.5" y="7.7" width="85.2" height="26.3" fill="#fff" stroke="#777" stroke-width="1"/>
<path d="M62.8,12.6H87.4" stroke="#555" stroke-width="1.4"/>
<path d="M62.8,21.5H87.4" stroke="#f02020" stroke-width="1.4"/>
<path d="M62.8,30.7H87.4" stroke="#2020f0" stroke-width="1.4"/>
<text transform="translate(90.00,15.00) scale(1.4195,1)" x="0" y="0" font-size="7.0" font-weight="bold" text-anchor="start">PVDF</text>
<text transform="translate(90.00,24.00) scale(1.4676,1)" x="0" y="0" font-size="7.0" font-weight="bold" text-anchor="start">PVDF-GO</text>
<text transform="translate(90.00,32.60) scale(1.4643,1)" x="0" y="0" font-size="7.0" font-weight="bold" text-anchor="start">PVDF-RGO</text>
<path d="M55.9,262.6 H402.4 V445.3" fill="none" stroke="#2a2a2a" stroke-width="1.35"/>
<path d="M55.9,262.1 V445.3 H403.0" fill="none" stroke="#111" stroke-width="1.5"/>
<path d="M50.2,445.30H55.9 M53.0,435.15H55.9 M50.2,425.00H55.9 M53.0,414.85H55.9 M50.2,404.70H55.9 M53.0,394.55H55.9 M50.2,384.40H55.9 M53.0,374.25H55.9 M50.2,364.10H55.9 M53.0,353.95H55.9 M50.2,343.80H55.9 M53.0,333.65H55.9 M50.2,323.50H55.9 M53.0,313.35H55.9 M50.2,303.20H55.9 M53.0,293.05H55.9 M50.2,282.90H55.9 M53.0,272.75H55.9 M50.2,262.60H55.9 M55.90,445.3V448.6 M87.36,445.3V447.2 M118.82,445.3V448.6 M150.28,445.3V447.2 M181.74,445.3V448.6 M213.20,445.3V447.2 M244.66,445.3V448.6 M276.12,445.3V447.2 M307.58,445.3V448.6 M339.04,445.3V447.2 M370.50,445.3V448.6 M401.96,445.3V447.2" stroke="#111" stroke-width="1.4" fill="none"/>
<text transform="translate(46.80,447.90) scale(1.4635,1)" x="0" y="0" font-size="8.6" font-weight="bold" text-anchor="end">0</text>
<text transform="translate(46.80,427.60) scale(1.4635,1)" x="0" y="0" font-size="8.6" font-weight="bold" text-anchor="end">50</text>
<text transform="translate(46.80,407.30) scale(1.4635,1)" x="0" y="0" font-size="8.6" font-weight="bold" text-anchor="end">100</text>
<text transform="translate(46.80,387.00) scale(1.4635,1)" x="0" y="0" font-size="8.6" font-weight="bold" text-anchor="end">150</text>
<text transform="translate(46.80,366.70) scale(1.4635,1)" x="0" y="0" font-size="8.6" font-weight="bold" text-anchor="end">200</text>
<text transform="translate(46.80,346.40) scale(1.4635,1)" x="0" y="0" font-size="8.6" font-weight="bold" text-anchor="end">250</text>
<text transform="translate(46.80,326.10) scale(1.4635,1)" x="0" y="0" font-size="8.6" font-weight="bold" text-anchor="end">300</text>
<text transform="translate(46.80,305.80) scale(1.4635,1)" x="0" y="0" font-size="8.6" font-weight="bold" text-anchor="end">350</text>
<text transform="translate(46.80,285.50) scale(1.4635,1)" x="0" y="0" font-size="8.6" font-weight="bold" text-anchor="end">400</text>
<text transform="translate(46.80,265.20) scale(1.4635,1)" x="0" y="0" font-size="8.6" font-weight="bold" text-anchor="end">450</text>
<text transform="translate(55.90,457.70) scale(1.4845,1)" x="0" y="0" font-size="8.6" font-weight="bold" text-anchor="middle">20</text>
<text transform="translate(118.82,457.70) scale(1.4845,1)" x="0" y="0" font-size="8.6" font-weight="bold" text-anchor="middle">30</text>
<text transform="translate(181.74,457.70) scale(1.4845,1)" x="0" y="0" font-size="8.6" font-weight="bold" text-anchor="middle">40</text>
<text transform="translate(244.66,457.70) scale(1.4845,1)" x="0" y="0" font-size="8.6" font-weight="bold" text-anchor="middle">50</text>
<text transform="translate(307.58,457.70) scale(1.4845,1)" x="0" y="0" font-size="8.6" font-weight="bold" text-anchor="middle">60</text>
<text transform="translate(370.50,457.70) scale(1.4845,1)" x="0" y="0" font-size="8.6" font-weight="bold" text-anchor="middle">70</text>
<text transform="translate(222.30,472.00) scale(1.4075,1)" x="0" y="0" font-size="9.0" font-weight="bold" text-anchor="middle">Frequency [Hz]</text>
<text transform="translate(212.00,492.70) scale(1.0091,1)" x="0" y="0" font-size="12.0" font-weight="bold" text-anchor="middle" style="font-family:&quot;Liberation Serif&quot;,serif">(b)</text>
<text transform="translate(73.30,277.40) scale(1.4358,1)" x="0" y="0" font-size="9.0" font-weight="bold" text-anchor="start">@</text>
<text transform="translate(89.80,276.50) scale(1.6791,1)" x="0" y="0" font-size="7.4" font-weight="bold" text-anchor="start">1g</text>
<g transform="translate(16.2,404.4) rotate(-90)">
<text transform="translate(0.00,0.00) scale(0.6855,1)" x="0" y="0" font-size="12.2" font-weight="bold" text-anchor="start">Output voltage</text>
<text transform="translate(61.50,0.00) scale(0.6942,1)" x="0" y="0" font-size="12.2" font-weight="bold" text-anchor="start">[mV</text>
<text transform="translate(77.30,3.70) scale(0.8904,1)" x="0" y="0" font-size="6" font-weight="bold" text-anchor="start">rms</text>
<text transform="translate(86.00,-0.60) scale(0.8356,1)" x="0" y="0" font-size="11.5" font-weight="bold" text-anchor="start">]</text>
</g>
<rect x="83.56" y="429.50" width="7.6" height="5" fill="#000"/>
<rect x="96.14" y="426.10" width="7.6" height="5" fill="#000"/>
<rect x="108.73" y="423.10" width="7.6" height="5" fill="#000"/>
<rect x="121.31" y="416.50" width="7.6" height="5" fill="#000"/>
<rect x="133.90" y="413.50" width="7.6" height="5" fill="#000"/>
<rect x="146.48" y="400.70" width="7.6" height="5" fill="#000"/>
<rect x="159.06" y="384.20" width="7.6" height="5" fill="#000"/>
<rect x="171.65" y="361.60" width="7.6" height="5" fill="#000"/>
<rect x="184.23" y="325.80" width="7.6" height="5" fill="#000"/>
<rect x="196.82" y="345.20" width="7.6" height="5" fill="#000"/>
<rect x="209.40" y="354.80" width="7.6" height="5" fill="#000"/>
<rect x="221.98" y="361.60" width="7.6" height="5" fill="#000"/>
<rect x="234.57" y="383.00" width="7.6" height="5" fill="#000"/>
<rect x="247.15" y="393.00" width="7.6" height="5" fill="#000"/>
<rect x="259.74" y="399.80" width="7.6" height="5" fill="#000"/>
<rect x="272.32" y="403.70" width="7.6" height="5" fill="#000"/>
<rect x="284.90" y="406.70" width="7.6" height="5" fill="#000"/>
<rect x="297.49" y="410.10" width="7.6" height="5" fill="#000"/>
<rect x="310.07" y="413.20" width="7.6" height="5" fill="#000"/>
<rect x="322.66" y="413.20" width="7.6" height="5" fill="#000"/>
<rect x="335.24" y="416.40" width="7.6" height="5" fill="#000"/>
<rect x="347.82" y="416.40" width="7.6" height="5" fill="#000"/>
<rect x="360.41" y="417.10" width="7.6" height="5" fill="#000"/>
<ellipse cx="87.36" cy="429.10" rx="4.3" ry="2.9" fill="#f00"/>
<ellipse cx="99.94" cy="425.80" rx="4.3" ry="2.9" fill="#f00"/>
<ellipse cx="112.53" cy="419.00" rx="4.3" ry="2.9" fill="#f00"/>
<ellipse cx="125.11" cy="416.00" rx="4.3" ry="2.9" fill="#f00"/>
<ellipse cx="137.70" cy="406.10" rx="4.3" ry="2.9" fill="#f00"/>
<ellipse cx="150.28" cy="390.00" rx="4.3" ry="2.9" fill="#f00"/>
<ellipse cx="162.86" cy="370.50" rx="4.3" ry="2.9" fill="#f00"/>
<ellipse cx="175.45" cy="354.50" rx="4.3" ry="2.9" fill="#f00"/>
<ellipse cx="188.03" cy="318.80" rx="4.3" ry="2.9" fill="#f00"/>
<ellipse cx="200.62" cy="325.10" rx="4.3" ry="2.9" fill="#f00"/>
<ellipse cx="213.20" cy="354.30" rx="4.3" ry="2.9" fill="#f00"/>
<ellipse cx="225.78" cy="373.90" rx="4.3" ry="2.9" fill="#f00"/>
<ellipse cx="238.37" cy="383.50" rx="4.3" ry="2.9" fill="#f00"/>
<ellipse cx="250.95" cy="393.40" rx="4.3" ry="2.9" fill="#f00"/>
<ellipse cx="263.54" cy="400.00" rx="4.3" ry="2.9" fill="#f00"/>
<ellipse cx="276.12" cy="403.50" rx="4.3" ry="2.9" fill="#f00"/>
<ellipse cx="288.70" cy="406.50" rx="4.3" ry="2.9" fill="#f00"/>
<ellipse cx="301.29" cy="409.90" rx="4.3" ry="2.9" fill="#f00"/>
<ellipse cx="313.87" cy="413.00" rx="4.3" ry="2.9" fill="#f00"/>
<ellipse cx="326.46" cy="412.90" rx="4.3" ry="2.9" fill="#f00"/>
<ellipse cx="339.04" cy="416.20" rx="4.3" ry="2.9" fill="#f00"/>
<ellipse cx="351.62" cy="416.20" rx="4.3" ry="2.9" fill="#f00"/>
<ellipse cx="364.21" cy="419.20" rx="4.3" ry="2.9" fill="#f00"/>
<path d="M81.86,424.80L87.36,418.80L92.86,424.80Z" fill="#00f"/>
<path d="M94.44,417.90L99.94,411.90L105.44,417.90Z" fill="#00f"/>
<path d="M107.03,408.50L112.53,402.50L118.03,408.50Z" fill="#00f"/>
<path d="M119.61,395.80L125.11,389.80L130.61,395.80Z" fill="#00f"/>
<path d="M132.20,379.10L137.70,373.10L143.20,379.10Z" fill="#00f"/>
<path d="M144.78,346.90L150.28,340.90L155.78,346.90Z" fill="#00f"/>
<path d="M157.36,308.00L162.86,302.00L168.36,308.00Z" fill="#00f"/>
<path d="M169.95,293.40L175.45,287.40L180.95,293.40Z" fill="#00f"/>
<path d="M182.53,277.00L188.03,271.00L193.53,277.00Z" fill="#00f"/>
<path d="M195.12,299.20L200.62,293.20L206.12,299.20Z" fill="#00f"/>
<path d="M207.70,318.00L213.20,312.00L218.70,318.00Z" fill="#00f"/>
<path d="M220.28,336.70L225.78,330.70L231.28,336.70Z" fill="#00f"/>
<path d="M232.87,359.80L238.37,353.80L243.87,359.80Z" fill="#00f"/>
<path d="M245.45,369.90L250.95,363.90L256.45,369.90Z" fill="#00f"/>
<path d="M258.04,376.30L263.54,370.30L269.04,376.30Z" fill="#00f"/>
<path d="M270.62,382.80L276.12,376.80L281.62,382.80Z" fill="#00f"/>
<path d="M283.20,389.20L288.70,383.20L294.20,389.20Z" fill="#00f"/>
<path d="M295.79,392.20L301.29,386.20L306.79,392.20Z" fill="#00f"/>
<path d="M308.37,395.60L313.87,389.60L319.37,395.60Z" fill="#00f"/>
<path d="M320.96,399.00L326.46,393.00L331.96,399.00Z" fill="#00f"/>
<path d="M333.54,399.00L339.04,393.00L344.54,399.00Z" fill="#00f"/>
<path d="M346.12,402.00L351.62,396.00L357.12,402.00Z" fill="#00f"/>
<path d="M358.71,402.00L364.21,396.00L369.71,402.00Z" fill="#00f"/>
<rect x="290.5" y="264.3" width="105" height="32.7" fill="none" stroke="#555" stroke-width="1"/>
<rect x="304.1" y="269.2" width="7.8" height="4.2" fill="#000"/>
<ellipse cx="308.2" cy="281.8" rx="4.4" ry="2.6" fill="#f00"/>
<path d="M303,293.8L308.3,288L313.6,293.8Z" fill="#00f"/>
<text transform="translate(327.00,274.20) scale(1.5090,1)" x="0" y="0" font-size="8.2" font-weight="bold" text-anchor="start">PVDF</text>
<text transform="translate(327.00,284.80) scale(1.5526,1)" x="0" y="0" font-size="8.2" font-weight="bold" text-anchor="start">PVDF-GO</text>
<text transform="translate(327.00,295.00) scale(1.5366,1)" x="0" y="0" font-size="8.2" font-weight="bold" text-anchor="start">PVDF-RGO</text>
</svg></body></html>
